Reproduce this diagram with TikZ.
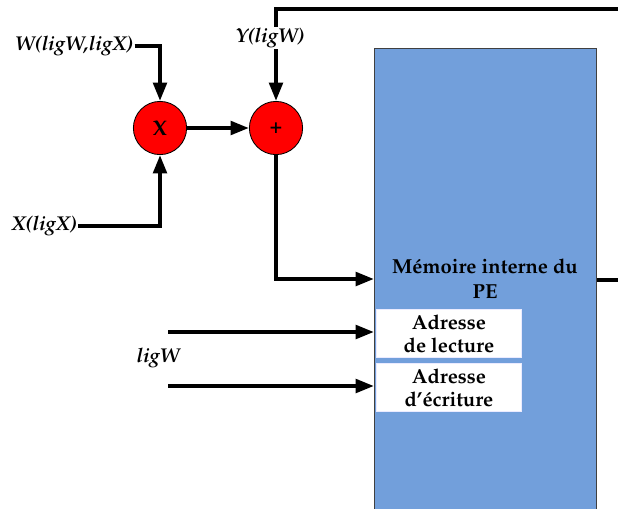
\documentclass[tikz,border=0pt]{standalone}
\usepackage[T1]{fontenc}
\usepackage{mathpazo}
\usetikzlibrary{arrows.meta, positioning, calc}

\definecolor{memblue}{RGB}{114,159,219}

\begin{document}
\begin{tikzpicture}[x=0.025cm, y=-0.025cm,
  wire/.style={line width=2.8pt},
  >={Triangle[length=13pt, width=9.5pt]},
  op/.style={circle, draw=black, fill=red, line width=0.6pt, minimum size=1.33cm, inner sep=0pt, font=\fontsize{15}{17}\selectfont\bfseries},
  lbl/.style={font=\fontsize{14.2}{16}\selectfont\bfseries\itshape, inner sep=1pt},
  memory/.style={rectangle, draw=black!75, fill=memblue, line width=0.8pt, anchor=north west, minimum width=5.55cm, minimum height=12cm},
  addr/.style={rectangle, draw=blue!8, fill=white, line width=0.6pt, anchor=north west, minimum width=3.625cm, minimum height=1.2cm, align=center, inner sep=0pt, font=\fontsize{14.4}{16.5}\selectfont\bfseries}]
\useasboundingbox (0,0) rectangle (618,508);

% Memory block
\node[memory] (mem) at (374,48) {};
\node[align=center, font=\fontsize{14.4}{17.5}\selectfont\bfseries] (memtext) at (485,279) {M\'emoire interne du\\PE};
\node[addr] (rd) at (376,309) {Adresse\\de lecture};
\node[addr] (wr) at (376,363) {Adresse\\d'\'ecriture};

% Operators
\node[op] (mul) at (160,128) {X};
\node[op] (plus) at (276,128) {+};

% Inputs
\node[lbl] (wlbl) at (74,46) {W(ligW,ligX)};
\node[lbl] (xlbl) at (44,226) {X(ligX)};
\node[lbl] (ylbl) at (270,38) {Y(ligW)};
\node[lbl] (glbl) at (158,358) {ligW};

\coordinate (rdin) at (168,332);
\coordinate (wrin) at (168,386);
\coordinate (topend) at (618,9);
\coordinate (outend) at (618,280);

% Connections
\draw[wire,->] (wlbl.east) -| (mul);
\draw[wire,->] (xlbl.east) -| (mul);
\draw[wire,->] (mul) -- (plus);
\draw[wire,->] (ylbl.south -| plus) -- (plus);
\draw[wire] (ylbl.north -| plus) |- (topend);
\draw[wire,->] (plus) |- (mem.west |- memtext);
\draw[wire,->] (rdin) -- (rdin -| mem.west);
\draw[wire,->] (wrin) -- (wrin -| mem.west);
\draw[wire] (mem.east |- outend) -- (outend);

\end{tikzpicture}
\end{document}
